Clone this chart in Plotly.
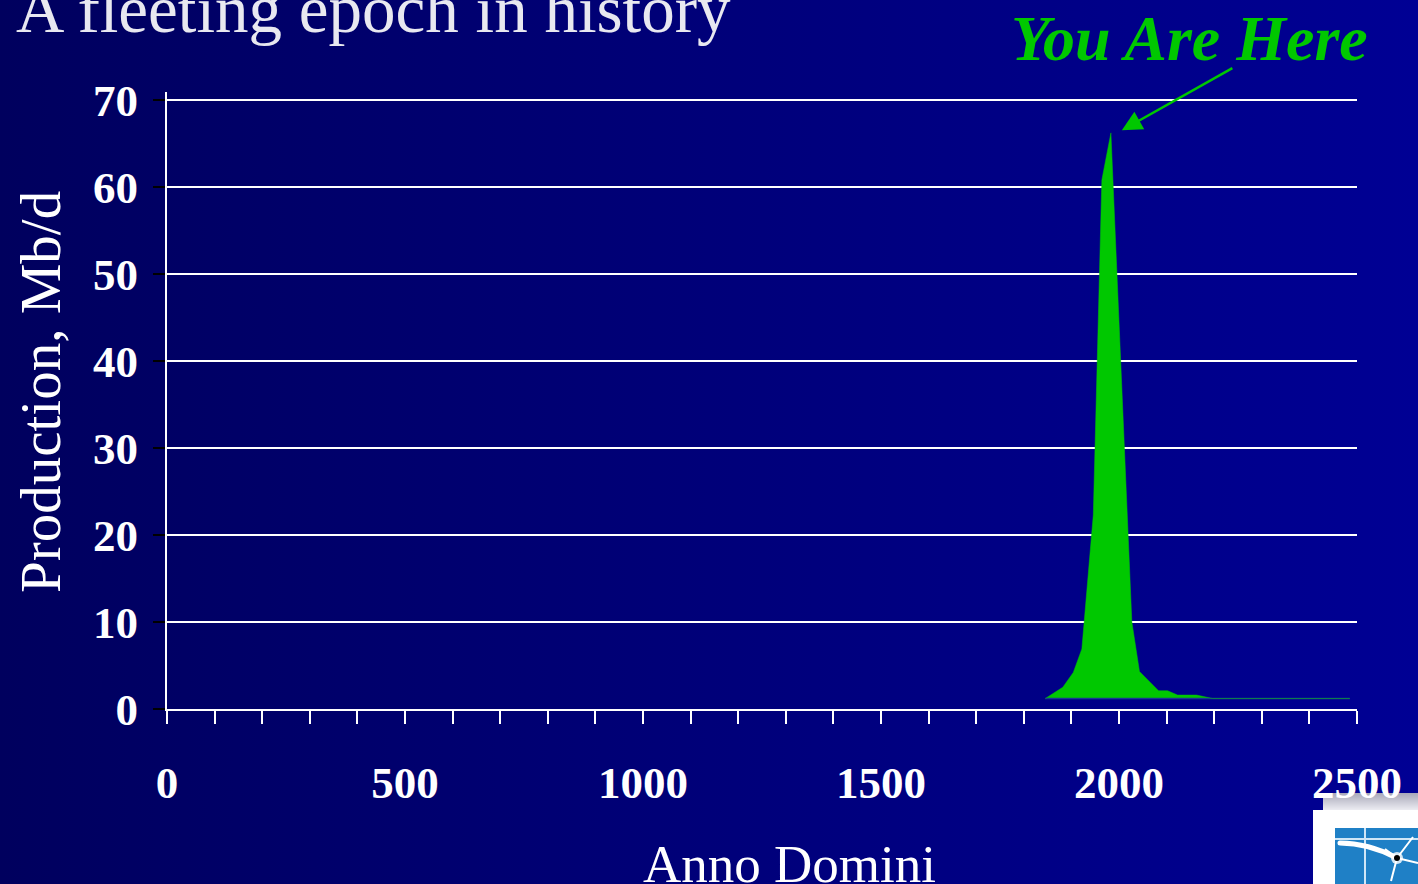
import base64

import plotly.graph_objects as go

# oil production through the ages
years = [1845, 1882, 1904, 1922, 1946, 1964, 1983, 2027, 2043, 2064, 2083, 2102, 2123, 2163, 2197, 2485]
production = [1.2, 2.5, 4.2, 6.9, 22.3, 60.8, 66.2, 10.0, 4.3, 3.2, 2.1, 2.1, 1.6, 1.6, 1.2, 1.2]
base_years = [1845, 2485]
base_level = [1.2, 1.2]

y_ticks = [0, 10, 20, 30, 40, 50, 60, 70]
x_ticks = [0, 500, 1000, 1500, 2000, 2500]

FONT = "Liberation Serif, Times New Roman, serif"
GREEN = "#00c800"

W, H = 1418, 884
L, R, T, B = 167, 61, 92, 175


def svg_uri(svg):
    return "data:image/svg+xml;base64," + base64.b64encode(svg.encode()).decode()


background = svg_uri(
    '<svg xmlns="http://www.w3.org/2000/svg" width="100" height="100" preserveAspectRatio="none">'
    '<defs><linearGradient id="g" x1="0" y1="0" x2="1" y2="0">'
    '<stop offset="0" stop-color="#00005e"/><stop offset="1" stop-color="#000094"/>'
    '</linearGradient></defs><rect width="100" height="100" fill="url(#g)"/></svg>'
)

logo = svg_uri(
    '<svg xmlns="http://www.w3.org/2000/svg" width="105" height="91">'
    '<defs><linearGradient id="b" x1="0" y1="0" x2="0" y2="1">'
    '<stop offset="0" stop-color="#a8a8b8"/><stop offset="1" stop-color="#ececf2"/>'
    '</linearGradient></defs>'
    '<rect x="10" y="0" width="95" height="17" fill="url(#b)"/>'
    '<rect x="0" y="17" width="105" height="74" fill="#ffffff"/>'
    '<rect x="22" y="35" width="83" height="56" fill="#1f80c6"/>'
    '<line x1="52" y1="35" x2="52" y2="91" stroke="#cfe6f7" stroke-width="2"/>'
    '<line x1="22" y1="46" x2="105" y2="46" stroke="#cfe6f7" stroke-width="2"/>'
    '<path d="M27 50 Q55 50 84 65" stroke="#ffffff" stroke-width="5" fill="none" stroke-linecap="round"/>'
    '<path d="M84 65 L100 44 M84 65 L105 70 M84 65 L78 88 M84 65 L72 56" stroke="#ffffff" stroke-width="2"/>'
    '<circle cx="84" cy="65" r="6" fill="#ffffff" opacity="0.8"/>'
    '<circle cx="84" cy="65" r="3" fill="#000000"/></svg>'
)

pw, ph = W - L - R, H - T - B


def px_x(x):
    return (x - L) / pw


def px_y(y):
    return (H - B - y) / ph


fig = go.Figure()

fig.add_trace(
    go.Scatter(
        x=base_years,
        y=base_level,
        mode="lines",
        line=dict(color="#183890", width=1.5),
        hoverinfo="skip",
    )
)
fig.add_trace(
    go.Scatter(
        x=years,
        y=production,
        mode="lines",
        fill="tonexty",
        fillcolor=GREEN,
        line=dict(color=GREEN, width=0.5),
        hoverinfo="skip",
    )
)

fig.update_layout(
    width=W,
    height=H,
    margin=dict(l=L, r=R, t=T, b=B),
    paper_bgcolor="#000070",
    plot_bgcolor="rgba(0,0,0,0)",
    showlegend=False,
    font=dict(family=FONT, color="white"),
    xaxis=dict(
        range=[0, 2500],
        tickvals=x_ticks,
        ticks="outside",
        ticklen=13,
        tickwidth=2,
        tickcolor="white",
        minor=dict(dtick=100, ticks="outside", ticklen=13, tickwidth=2, tickcolor="white"),
        showline=True,
        linecolor="white",
        linewidth=2,
        showgrid=False,
        zeroline=False,
        tickfont=dict(size=45, family=FONT, weight="bold", color="white"),
        ticklabelstandoff=20,
    ),
    yaxis=dict(
        range=[0, 70.9],
        tickvals=y_ticks,
        ticks="outside",
        ticklen=12,
        tickwidth=2,
        tickcolor="black",
        showline=True,
        linecolor="white",
        linewidth=2,
        showgrid=True,
        gridcolor="white",
        gridwidth=2,
        zeroline=False,
        tickfont=dict(size=45, family=FONT, weight="bold", color="white"),
        ticklabelstandoff=6,
    ),
    images=[
        dict(
            source=background,
            xref="paper", yref="paper",
            x=px_x(0), y=px_y(0),
            sizex=W / pw, sizey=H / ph,
            sizing="stretch",
            xanchor="left", yanchor="top",
            layer="below",
        ),
        dict(
            source=logo,
            xref="paper", yref="paper",
            x=px_x(1313), y=px_y(793),
            sizex=105 / pw, sizey=91 / ph,
            sizing="stretch",
            xanchor="left", yanchor="top",
            layer="below",
        ),
    ],
    annotations=[
        dict(
            text="A fleeting epoch in history",
            xref="paper", yref="paper",
            x=px_x(14), y=px_y(9),
            xanchor="left", yanchor="middle",
            showarrow=False,
            font=dict(size=67, family=FONT, color="#e8e8f0"),
        ),
        dict(
            text="You Are Here",
            xref="paper", yref="paper",
            x=px_x(1189), y=px_y(39),
            xanchor="center", yanchor="middle",
            showarrow=False,
            font=dict(size=64, family=FONT, color=GREEN, weight="bold", style="italic"),
        ),
        dict(
            text="",
            x=2006, y=66.5,
            showarrow=True,
            arrowhead=2,
            arrowsize=1.6,
            arrowwidth=2.5,
            arrowcolor=GREEN,
            ax=112, ay=-63,
        ),
        dict(
            text="Anno Domini",
            xref="paper", yref="paper",
            x=px_x(789), y=px_y(864),
            xanchor="center", yanchor="middle",
            showarrow=False,
            font=dict(size=53, family=FONT, color="white"),
        ),
        dict(
            text="Production, Mb/d",
            xref="paper", yref="paper",
            x=px_x(40), y=px_y(392),
            xanchor="center", yanchor="middle",
            textangle=-90,
            showarrow=False,
            font=dict(size=57, family=FONT, color="white"),
        ),
    ],
)

fig.write_html(
    "out.html",
    config={"displayModeBar": False},
    post_script="document.body.style.margin = '0';",
)
